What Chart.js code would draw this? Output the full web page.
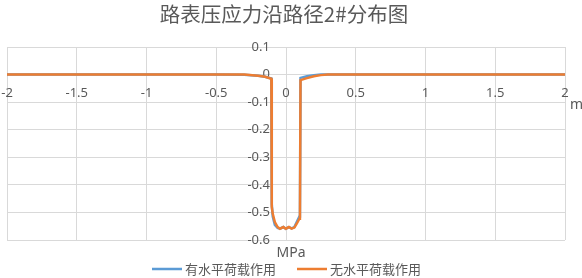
<!DOCTYPE html>
<html>
<head>
<meta charset="utf-8">
<script src="https://cdn.jsdelivr.net/npm/chart.js@4"></script>
<style>
  html, body { margin: 0; padding: 0; background: #fff; }
  #wrap { width: 582px; height: 278px; }
</style>
</head>
<body>
<div id="wrap"><canvas id="chart" width="582" height="278"></canvas></div>
<script>
// 路径位置 (m)
const xPos = [-2, -1.5, -1, -0.5, -0.3, -0.2, -0.15, -0.105, -0.102, -0.095, -0.08, -0.06,
  -0.043, -0.019, -0.002, 0.021, 0.04, 0.06, 0.077, 0.096, 0.1, 0.104, 0.15, 0.2, 0.25, 0.3,
  0.5, 1, 1.5, 2];
// 有水平荷载作用 (MPa)
const withHoriz = [0, 0, 0, 0, -0.001, -0.004, -0.008, -0.014, -0.47, -0.515, -0.545, -0.556,
  -0.559, -0.553, -0.559, -0.553, -0.558, -0.553, -0.535, -0.515, -0.505, -0.012, -0.006, -0.002, 0, 0,
  0, 0, 0, 0];
// 无水平荷载作用 (MPa)
const noHoriz = [0, 0, 0, 0, 0, -0.004, -0.008, -0.015, -0.48, -0.505, -0.535, -0.553,
  -0.559, -0.553, -0.559, -0.553, -0.559, -0.555, -0.541, -0.523, -0.515, -0.02, -0.013, -0.006, -0.002, 0,
  0, 0, 0, 0];
const seriesNames = ['有水平荷载作用', '无水平荷载作用'];
const seriesColors = ['#5b9bd5', '#ed7d31'];
const titleText = '路表压应力沿路径2#分布图';

function pts(ys) {
  return xPos.map((x, i) => ({ x: x, y: ys[i] }));
}

const gridColor = '#d9d9d9';
const textColor = '#595959';

// 标题、图例和坐标轴单位
const extras = {
  id: 'extras',
  afterDraw(chart) {
    const ctx = chart.ctx;
    const area = chart.chartArea;
    const xs = chart.scales.x;
    const ys = chart.scales.y;
    ctx.save();
    ctx.fillStyle = textColor;
    ctx.textBaseline = 'middle';
    ctx.textAlign = 'center';
    ctx.font = '20.5px "Noto Sans CJK SC", sans-serif';
    ctx.fillText(titleText, 284, 14);

    ctx.font = '14px "Noto Sans", "Noto Sans CJK SC", sans-serif';
    ctx.fillText('MPa', xs.getPixelForValue(0) + 5, area.bottom + 13);
    ctx.textAlign = 'left';
    ctx.fillText('m', area.right + 5, ys.getPixelForValue(0) + 30);

    // 图例
    ctx.font = '13px "Noto Sans CJK SC", sans-serif';
    seriesNames.forEach((name, i) => {
      const lx = [152, 297][i];
      ctx.strokeStyle = seriesColors[i];
      ctx.lineWidth = 2.5;
      ctx.beginPath();
      ctx.moveTo(lx, 269);
      ctx.lineTo(lx + 30, 269);
      ctx.stroke();
      ctx.fillStyle = textColor;
      ctx.fillText(name, lx + 33, 269);
    });
    ctx.restore();
  }
};

const fmt = v => String(Math.round(v * 10) / 10);

new Chart(document.getElementById('chart').getContext('2d'), {
  type: 'line',
  data: {
    datasets: [
      {
        label: seriesNames[1],
        data: pts(noHoriz),
        borderColor: seriesColors[1],
        backgroundColor: seriesColors[1],
        borderWidth: 2.5,
        pointRadius: 0,
        tension: 0
      },
      {
        label: seriesNames[0],
        data: pts(withHoriz),
        borderColor: seriesColors[0],
        backgroundColor: seriesColors[0],
        borderWidth: 2.5,
        pointRadius: 0,
        tension: 0
      }
    ]
  },
  options: {
    responsive: false,
    animation: false,
    layout: { padding: { left: 7, right: 17, top: 47, bottom: 38 } },
    plugins: {
      legend: { display: false },
      title: { display: false },
      tooltip: { enabled: false }
    },
    scales: {
      x: {
        type: 'linear',
        min: -2,
        max: 2,
        // 横轴标签在 0 线下方约 11px
        position: { y: -0.04 },
        ticks: {
          stepSize: 0.5,
          color: textColor,
          padding: 0,
          maxRotation: 0,
          font: { family: '"Noto Sans", sans-serif', size: 13 },
          callback: fmt
        },
        grid: { color: gridColor, drawTicks: false },
        border: { display: false }
      },
      y: {
        type: 'linear',
        min: -0.6,
        max: 0.1,
        // 标签离纵轴约 14px
        position: { x: -0.115 },
        ticks: {
          stepSize: 0.1,
          color: textColor,
          padding: 0,
          font: { family: '"Noto Sans", sans-serif', size: 13 },
          callback: fmt
        },
        grid: { color: gridColor, drawTicks: false },
        border: { display: false }
      }
    }
  },
  plugins: [extras]
});
</script>
</body>
</html>
